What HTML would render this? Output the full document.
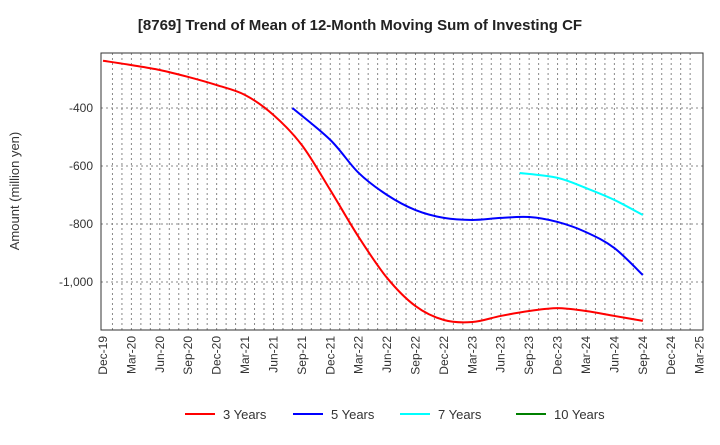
<!DOCTYPE html>
<html><head><meta charset="utf-8"><style>
body{margin:0;background:#fff;font-family:"Liberation Sans",sans-serif}
</style></head><body>
<svg id="c" width="720" height="440" xmlns="http://www.w3.org/2000/svg">
<text x="360" y="30" text-anchor="middle" font-size="15" font-weight="bold" fill="#222">[8769]  Trend of Mean of 12-Month Moving Sum of Investing CF</text>
<text transform="translate(19,191) rotate(-90)" text-anchor="middle" font-size="13" fill="#333">Amount (million yen)</text>
<g id="grid"></g><g id="series"></g><g id="axes"></g><g id="legend"></g>
</svg>
<script>
const xLabels=["Dec-19","Mar-20","Jun-20","Sep-20","Dec-20","Mar-21","Jun-21","Sep-21","Dec-21","Mar-22","Jun-22","Sep-22","Dec-22","Mar-23","Jun-23","Sep-23","Dec-23","Mar-24","Jun-24","Sep-24","Dec-24","Mar-25"];
const yTicks=[-400,-600,-800,-1000];
const yTickLabels=["-400","-600","-800","-1,000"];
const seriesNames=["3 Years","5 Years","7 Years","10 Years"];
const seriesColors=["#ff0000","#0000ff","#00ffff","#008000"];
const red3Months=[0,3,6,9,12,15,18,21,24,27,30,33,36,39,42,45,48,51,54,57];
const red3Values=[-237,-252,-269,-293,-321,-355,-424,-528,-683,-845,-986,-1083,-1131,-1138,-1117,-1100,-1090,-1100,-1117,-1134];
const blue5Months=[20,24,27,30,33,36,39,42,45,48,51,54,57];
const blue5Values=[-400,-510,-624,-700,-752,-779,-786,-779,-776,-793,-828,-883,-976];
const cyan7Months=[44,48,51,54,57];
const cyan7Values=[-624,-641,-676,-717,-769];
const L=101,R=703,T=53,B=330;
const xs=m=>103+9.47*m;
const ys=v=>108+(-400-v)*0.29;
const NS="http://www.w3.org/2000/svg";
function mk(p,t,a){const e=document.createElementNS(NS,t);for(const k in a)e.setAttribute(k,a[k]);p.appendChild(e);return e;}
const grid=document.getElementById('grid'),axes=document.getElementById('axes'),ser=document.getElementById('series'),leg=document.getElementById('legend');
for(let m=1;m<63;m++){const x=xs(m);const l=mk(grid,'line',{x1:x,x2:x,y1:T,y2:B,stroke:'#888','stroke-dasharray':'2,3','stroke-width':1});

}
yTicks.forEach((v,i)=>{const y=ys(v);const l=mk(grid,'line',{x1:L,x2:R,y1:y,y2:y,stroke:'#888','stroke-dasharray':'2,3'});


const t=mk(axes,'text',{x:L-8,y:y+4,'text-anchor':'end','font-size':12,fill:'#333'});t.textContent=yTickLabels[i];

});
const fr=mk(axes,'rect',{x:L,y:T,width:R-L,height:B-T,fill:'none',stroke:'#333','stroke-width':1});


xLabels.forEach((s,i)=>{const x=xs(i*3);const t=mk(axes,'text',{transform:`translate(${x+4},${B+6}) rotate(-90)`,'text-anchor':'end','font-size':12,fill:'#333'});t.textContent=s;

});
function path(ms,vs){const p=ms.map((m,i)=>[xs(m),ys(vs[i])]);let d=`M${p[0][0]},${p[0][1]}`;
for(let i=0;i<p.length-1;i++){const p0=p[i-1]||p[i],p1=p[i],p2=p[i+1],p3=p[i+2]||p2;
d+=` C${p1[0]+(p2[0]-p0[0])/6},${p1[1]+(p2[1]-p0[1])/6} ${p2[0]-(p3[0]-p1[0])/6},${p2[1]-(p3[1]-p1[1])/6} ${p2[0]},${p2[1]}`;}return d;}
[[red3Months,red3Values,0],[blue5Months,blue5Values,1],[cyan7Months,cyan7Values,2]].forEach(([m,v,i])=>{
const e=mk(ser,'path',{d:path(m,v),fill:'none',stroke:seriesColors[i],'stroke-width':2});

});
const lx=[185,293,400,516];
seriesNames.forEach((n,i)=>{const g=mk(leg,'g',{});


mk(g,'line',{x1:lx[i],x2:lx[i]+30,y1:414,y2:414,stroke:seriesColors[i],'stroke-width':2});
const t=mk(g,'text',{x:lx[i]+38,y:419,'font-size':13,fill:'#333'});t.textContent=n;});
</script>
</body></html>
